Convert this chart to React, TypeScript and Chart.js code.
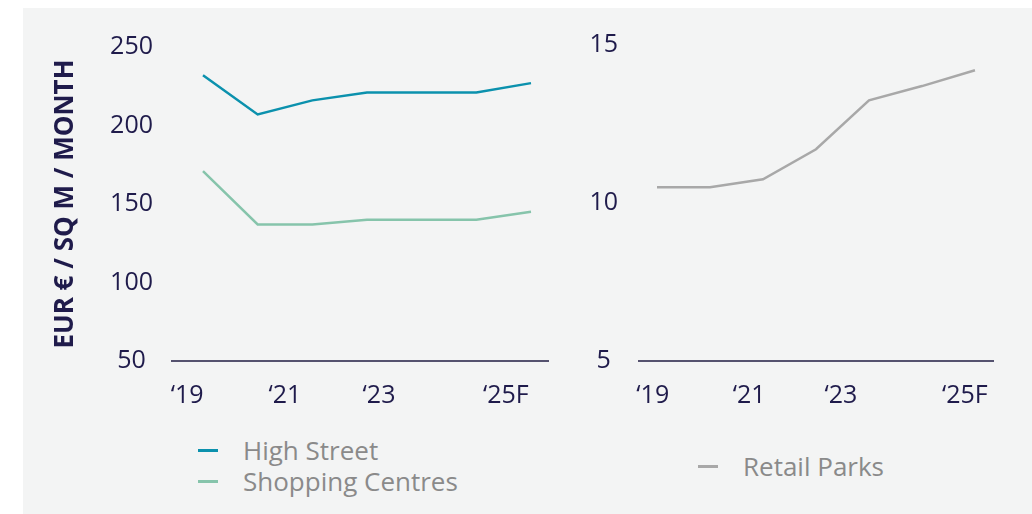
import React, { useEffect, useRef } from "react";
import { Chart, registerables } from "chart.js";

Chart.register(...registerables);

// ---- data ----
const years = ["2019", "2020", "2021", "2022", "2023", "2024", "2025F"];
const highStreet = [232, 207, 216, 221, 221, 221, 227];
const shoppingCentres = [171, 137, 137, 140, 140, 140, 145];
const retailParks = [10.5, 10.5, 10.75, 11.7, 13.25, 13.7, 14.2];
const xTickLabels = ["\u201819", "\u201821", "\u201823", "\u201825F"];
const leftTickAt = [-0.29, 1.5, 3.22, 5.54];
const rightTickAt = [-0.08, 1.74, 3.47, 5.81];
const leftYTicks = [50, 100, 150, 200, 250];
const rightYTicks = [5, 10, 15];

const FONT = "'Open Sans', sans-serif";
const TICK_COLOR = "#1f1b4b";
const AXIS_COLOR = "#55526f";
const LEGEND_COLOR = "#8a8a8a";

const toPoints = (arr: number[]) => arr.map((v, i) => ({ x: i, y: v }));

function makeOptions(opts: {
  xMin: number;
  xMax: number;
  tickAt: number[];
  yMin: number;
  yMax: number;
  yStep: number;
  yWidth: number;
  yPad: number;
  padTop: number;
  padRight: number;
  title?: string;
}): any {
  return {
    responsive: false,
    animation: false,
    layout: { padding: { top: opts.padTop, right: opts.padRight, left: 0, bottom: 0 } },
    plugins: { legend: { display: false }, tooltip: { enabled: false } },
    scales: {
      x: {
        type: "linear",
        min: opts.xMin,
        max: opts.xMax,
        grid: { display: false, drawTicks: false },
        border: { display: true, color: AXIS_COLOR, width: 2 },
        afterBuildTicks: (scale: any) => {
          scale.ticks = opts.tickAt.map((v) => ({ value: v }));
        },
        afterFit: (scale: any) => {
          scale.height = 60;
        },
        ticks: {
          autoSkip: false,
          maxRotation: 0,
          padding: 20,
          color: TICK_COLOR,
          font: { family: FONT, size: 25 },
          callback: (_v: any, i: number) => xTickLabels[i],
        },
      },
      y: {
        type: "linear",
        min: opts.yMin,
        max: opts.yMax,
        grid: { display: false, drawTicks: false },
        border: { display: false },
        afterFit: (scale: any) => {
          scale.width = opts.yWidth;
        },
        ticks: {
          stepSize: opts.yStep,
          crossAlign: "center",
          padding: opts.yPad,
          color: TICK_COLOR,
          font: { family: FONT, size: 25 },
        },
        title: opts.title
          ? {
              display: true,
              text: opts.title,
              color: TICK_COLOR,
              font: { family: FONT, size: 26, weight: "bold" },
              padding: { top: 27, bottom: 0 },
            }
          : { display: false },
      },
    },
  };
}

function LineChart(props: { width: number; height: number; datasets: any[]; options: any }) {
  const ref = useRef<HTMLCanvasElement | null>(null);
  useEffect(() => {
    if (!ref.current) return;
    const chart = new Chart(ref.current, {
      type: "line",
      data: { labels: years, datasets: props.datasets },
      options: props.options,
    });
    return () => chart.destroy();
  }, []);
  return (
    <canvas
      ref={ref}
      width={props.width}
      height={props.height}
      style={{ width: props.width, height: props.height, display: "block" }}
    />
  );
}

function LegendItem(props: { left: number; top: number; color: string; label: string }) {
  return (
    <div
      style={{
        position: "absolute",
        left: props.left,
        top: props.top - 17,
        height: 34,
        display: "flex",
        alignItems: "center",
        fontFamily: FONT,
        fontSize: 26,
        color: LEGEND_COLOR,
        whiteSpace: "nowrap",
      }}
    >
      <span style={{ display: "inline-block", width: 20, height: 3, background: props.color, marginRight: 25 }} />
      <span>{props.label}</span>
    </div>
  );
}

export default function App() {
  const lineStyle = { pointRadius: 0, borderWidth: 2.5, tension: 0, fill: false };
  const leftDatasets = [
    { label: "High Street", data: toPoints(highStreet), borderColor: "#0b91ad", ...lineStyle },
    { label: "Shopping Centres", data: toPoints(shoppingCentres), borderColor: "#86c4ab", ...lineStyle },
  ];
  const rightDatasets = [
    { label: "Retail Parks", data: toPoints(retailParks), borderColor: "#a8a8a8", ...lineStyle },
  ];
  const leftOptions = makeOptions({
    xMin: -0.567,
    xMax: 6.311,
    tickAt: leftTickAt,
    yMin: leftYTicks[0],
    yMax: leftYTicks[leftYTicks.length - 1],
    yStep: 50,
    yWidth: 149,
    yPad: 19,
    padTop: 39,
    padRight: 32,
    title: "EUR \u20ac / SQ M / MONTH",
  });
  const rightOptions = makeOptions({
    xMin: -0.34,
    xMax: 6.34,
    tickAt: rightTickAt,
    yMin: rightYTicks[0],
    yMax: rightYTicks[rightYTicks.length - 1],
    yStep: 5,
    yWidth: 59,
    yPad: 21,
    padTop: 37,
    padRight: 39,
  });
  return (
    <div
      style={{
        position: "absolute",
        left: 23,
        top: 8,
        width: 1009,
        height: 506,
        background: "#f3f4f4",
        overflow: "hidden",
      }}
    >
      <div style={{ position: "absolute", left: 0, top: 0 }}>
        <LineChart width={557} height={413} datasets={leftDatasets} options={leftOptions} />
      </div>
      <div style={{ position: "absolute", left: 557, top: 0 }}>
        <LineChart width={452} height={413} datasets={rightDatasets} options={rightOptions} />
      </div>
      <LegendItem left={175} top={442} color="#0b91ad" label="High Street" />
      <LegendItem left={175} top={473} color="#86c4ab" label="Shopping Centres" />
      <LegendItem left={675} top={458} color="#a8a8a8" label="Retail Parks" />
    </div>
  );
}
